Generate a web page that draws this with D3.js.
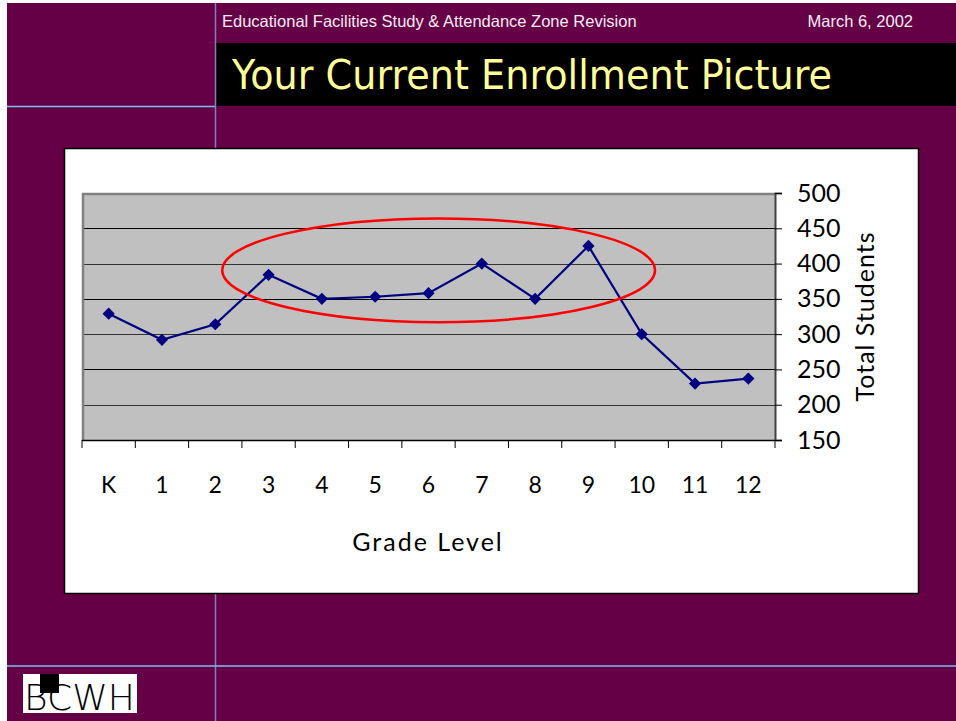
<!DOCTYPE html>
<html>
<head>
<meta charset="utf-8">
<script src="https://cdn.jsdelivr.net/npm/d3@7"></script>
<style>
  html, body { margin: 0; padding: 0; background: #fff; }
  svg { display: block; }
</style>
</head>
<body>
<svg id="slide" width="956" height="721"></svg>
<script>
// enrollment by grade
var grades = ["K", "1", "2", "3", "4", "5", "6", "7", "8", "9", "10", "11", "12"];
var students = [329, 292, 314, 384, 350, 353, 358, 400, 350, 425, 300, 230, 237];
var yTicks = [150, 200, 250, 300, 350, 400, 450, 500];

// the red ring drawn over grades 3-9 (grade index / student units)
var ringFrom = 2.13, ringTo = 10.25, ringTop = 464, ringBottom = 317;

var svg = d3.select("#slide");
var bg = "#660046";
var axisFont = "Lato, DejaVu Sans, sans-serif";

// slide background + divider lines
svg.append("rect").attr("x", 7).attr("y", 3).attr("width", 949).attr("height", 718).attr("fill", bg);
svg.append("rect").attr("x", 215).attr("y", 43).attr("width", 741).attr("height", 63).attr("fill", "#000");
svg.append("line").attr("x1", 215.5).attr("x2", 215.5).attr("y1", 3).attr("y2", 721)
  .attr("stroke", "#8a78c0").attr("stroke-width", 1.5);
svg.append("line").attr("x1", 7).attr("x2", 215).attr("y1", 106.5).attr("y2", 106.5)
  .attr("stroke", "#78c0f0").attr("stroke-width", 1.5);
svg.append("line").attr("x1", 7).attr("x2", 956).attr("y1", 666).attr("y2", 666)
  .attr("stroke", "#78c0f0").attr("stroke-width", 1.5);

svg.append("text").attr("x", 222).attr("y", 27)
  .attr("font-family", "Liberation Sans, Arial, sans-serif").attr("font-size", 16.5)
  .attr("fill", "#f4ecf2").text("Educational Facilities Study & Attendance Zone Revision");
svg.append("text").attr("x", 913).attr("y", 27).attr("text-anchor", "end")
  .attr("font-family", "Liberation Sans, Arial, sans-serif").attr("font-size", 16.5)
  .attr("fill", "#f4ecf2").text("March 6, 2002");

svg.append("text").attr("x", 232).attr("y", 89)
  .attr("font-family", "DejaVu Sans, Verdana, sans-serif").attr("font-size", 40)
  .attr("textLength", 600).attr("lengthAdjust", "spacingAndGlyphs")
  .attr("fill", "#ffff99").text("Your Current Enrollment Picture");

// logo
var logo = svg.append("g").attr("transform", "translate(23,674)");
logo.append("rect").attr("width", 114).attr("height", 39).attr("fill", "#fff");
logo.append("rect").attr("x", 17).attr("y", 0).attr("width", 19).attr("height", 19).attr("fill", "#000");
logo.append("text").attr("x", 1).attr("y", 36)
  .attr("font-family", "DejaVu Sans, sans-serif").attr("font-weight", 300).attr("font-size", 36)
  .attr("textLength", 111).attr("lengthAdjust", "spacingAndGlyphs")
  .attr("fill", "#000").text("BCWH");

// chart frame
svg.append("rect").attr("x", 64.5).attr("y", 148.5).attr("width", 854).attr("height", 445)
  .attr("fill", "#fff").attr("stroke", "#000").attr("stroke-width", 1.5);

var pLeft = 82, pRight = 775, pTop = 193, pBottom = 440;

var x = d3.scaleBand().domain(grades).range([pLeft, pRight]).padding(0);
var y = d3.scaleLinear().domain([150, 500]).range([pBottom, pTop]);
var xi = d3.scaleLinear().domain([0, 1]).range([pLeft + x.bandwidth() / 2, pLeft + x.bandwidth() * 1.5]);

var plot = svg.append("g");
plot.append("rect").attr("x", pLeft).attr("y", pTop).attr("width", pRight - pLeft).attr("height", pBottom - pTop)
  .attr("fill", "#c0c0c0");

// gridlines
plot.selectAll(".grid").data(yTicks.filter(function(d) { return d > 150 && d < 500; }))
  .enter().append("line")
  .attr("x1", pLeft).attr("x2", pRight)
  .attr("y1", function(d) { return Math.round(y(d)) + 0.5; })
  .attr("y2", function(d) { return Math.round(y(d)) + 0.5; })
  .attr("stroke", function(d, i) { return i % 2 ? "#000" : "#333"; }).attr("stroke-width", 1.2);

// gray plot border on top / left
plot.append("path")
  .attr("d", "M" + (pLeft + 1) + "," + pBottom + "V" + (pTop + 1) + "H" + pRight)
  .attr("fill", "none").attr("stroke", "#808080").attr("stroke-width", 2.5);

// x axis with ticks between categories
var xAxis = svg.append("g");
xAxis.append("line").attr("x1", pLeft).attr("x2", pRight).attr("y1", pBottom + 0.5).attr("y2", pBottom + 0.5)
  .attr("stroke", "#000").attr("stroke-width", 1.5);
xAxis.selectAll(".xt").data(d3.range(grades.length + 1)).enter().append("line")
  .attr("x1", function(i) { return pLeft + i * x.bandwidth(); })
  .attr("x2", function(i) { return pLeft + i * x.bandwidth(); })
  .attr("y1", pBottom).attr("y2", pBottom + 8)
  .attr("stroke", "#000").attr("stroke-width", 1);
xAxis.selectAll(".xl").data(grades).enter().append("text")
  .attr("x", function(d) { return x(d) + x.bandwidth() / 2; })
  .attr("y", 493).attr("text-anchor", "middle")
  .attr("font-family", axisFont).attr("font-size", 23)
  .attr("fill", "#000").text(function(d) { return d; });

// right y axis
var yAxis = d3.axisRight(y).tickValues(yTicks).tickSize(7).tickPadding(15);
var ya = svg.append("g").attr("transform", "translate(" + pRight + ",0)").call(yAxis);
ya.select(".domain").attr("stroke-width", 2).attr("stroke", "#404040");
ya.selectAll("text").attr("font-family", axisFont).attr("font-size", 25)
  .attr("fill", "#000");

svg.append("text")
  .attr("transform", "translate(874," + ((pTop + pBottom) / 2) + ") rotate(-90)")
  .attr("text-anchor", "middle")
  .attr("font-family", axisFont).attr("font-size", 25)
  .attr("letter-spacing", 1)
  .attr("fill", "#000").text("Total Students");

svg.append("text").attr("x", 428).attr("y", 551).attr("text-anchor", "middle")
  .attr("font-family", axisFont).attr("font-size", 25)
  .attr("letter-spacing", 2)
  .attr("fill", "#000").text("Grade Level");

// series
var pts = grades.map(function(g, i) { return { g: g, v: students[i] }; });
var line = d3.line()
  .x(function(d) { return x(d.g) + x.bandwidth() / 2; })
  .y(function(d) { return y(d.v); });

svg.append("path").datum(pts).attr("d", line)
  .attr("fill", "none").attr("stroke", "#000080").attr("stroke-width", 2.2);

svg.selectAll(".mk").data(pts).enter().append("path")
  .attr("d", d3.symbol().type(d3.symbolDiamond2).size(95))
  .attr("transform", function(d) {
    return "translate(" + (x(d.g) + x.bandwidth() / 2) + "," + y(d.v) + ")";
  })
  .attr("fill", "#000080");

// red ring
svg.append("ellipse")
  .attr("cx", (xi(ringFrom) + xi(ringTo)) / 2)
  .attr("cy", (y(ringTop) + y(ringBottom)) / 2)
  .attr("rx", (xi(ringTo) - xi(ringFrom)) / 2)
  .attr("ry", (y(ringBottom) - y(ringTop)) / 2)
  .attr("fill", "none").attr("stroke", "#ff0000").attr("stroke-width", 2.5);
</script>
</body>
</html>
